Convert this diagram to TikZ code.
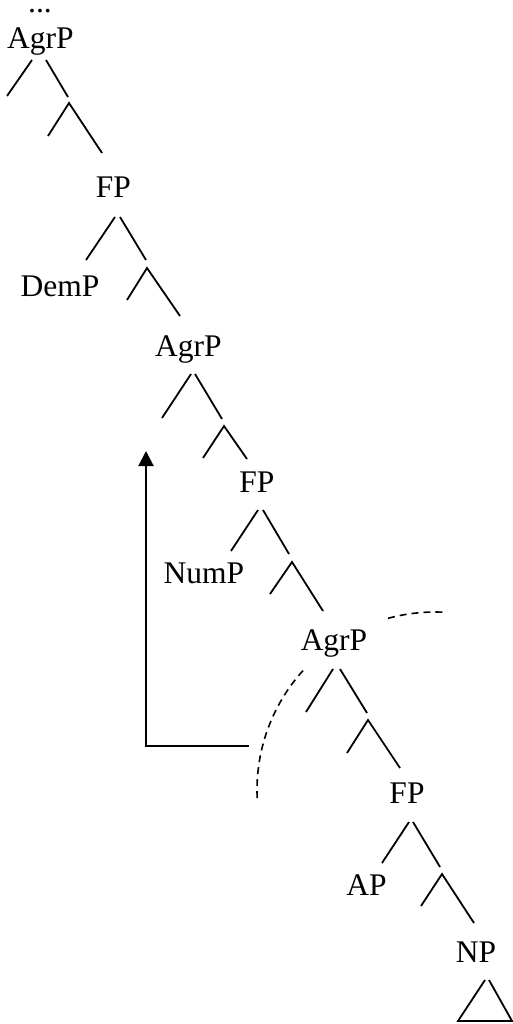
\documentclass[tikz,border=0pt]{standalone}
\usepackage{fontspec}
\setmainfont{Liberation Serif}
\usetikzlibrary{arrows.meta}
\tikzset{
  br/.style={line width=1.8pt},
  lab/.style={anchor=base, inner sep=0pt, font=\fontsize{31.5}{36}\selectfont},
  dsh/.style={line width=1.6pt, dash pattern=on 7pt off 5pt},
  mv/.style={line width=2pt, -{Triangle[length=15pt,width=15pt]}}
}
\begin{document}
\begin{tikzpicture}[x=1pt,y=-1pt]
\useasboundingbox (0,0) rectangle (513,1024);
% labels
\node[lab] (dots) at (40,13) {...};
\node[lab] (AgrPa) at (40.5,49) {AgrP};
\node[lab] (FPa) at (113.5,198) {FP};
\node[lab] (DemP) at (60,296) {DemP};
\node[lab] (AgrPb) at (188.5,356) {AgrP};
\node[lab] (FPb) at (257,492) {FP};
\node[lab] (NumP) at (204,583) {NumP};
\node[lab] (AgrPc) at (334,650) {AgrP};
\node[lab] (FPc) at (407,803) {FP};
\node[lab] (AP) at (366.5,895) {AP};
\node[lab] (NP) at (476,962) {NP};
% branch points
\coordinate (a1) at (32,60);   \coordinate (a2) at (7,96);
\coordinate (a3) at (46,60);   \coordinate (a4) at (68,97);
\coordinate (ia) at (69,103);  \coordinate (ial) at (48,136);  \coordinate (iar) at (102,153);
\coordinate (f1) at (115,217); \coordinate (f2) at (86,260);
\coordinate (f3) at (120,217); \coordinate (f4) at (146,260);
\coordinate (ib) at (147,268); \coordinate (ibl) at (127,300); \coordinate (ibr) at (180,316);
\coordinate (b1) at (191,374); \coordinate (b2) at (162,418);
\coordinate (b3) at (195,374); \coordinate (b4) at (222,419);
\coordinate (ic) at (224,426); \coordinate (icl) at (203,458); \coordinate (icr) at (247,459);
\coordinate (g1) at (258,510); \coordinate (g2) at (231,551);
\coordinate (g3) at (263,510); \coordinate (g4) at (289,554);
\coordinate (id) at (292,562); \coordinate (idl) at (270,594); \coordinate (idr) at (323,611);
\coordinate (c1) at (333,669); \coordinate (c2) at (306,712);
\coordinate (c3) at (340,669); \coordinate (c4) at (367,713);
\coordinate (ie) at (368,720); \coordinate (iel) at (347,753); \coordinate (ier) at (400,768);
\coordinate (h1) at (409,822); \coordinate (h2) at (382,863);
\coordinate (h3) at (413,822); \coordinate (h4) at (440,867);
\coordinate (if) at (442,874); \coordinate (ifl) at (421,906); \coordinate (ifr) at (474,923);
\coordinate (t1) at (485,980); \coordinate (t2) at (458,1021);
\coordinate (t3) at (512,1021); \coordinate (t4) at (489,980);
% branches
\draw[br] (a1) -- (a2); \draw[br] (a3) -- (a4);
\draw[br] (ial) -- (ia) -- (iar);
\draw[br] (f1) -- (f2); \draw[br] (f3) -- (f4);
\draw[br] (ibl) -- (ib) -- (ibr);
\draw[br] (b1) -- (b2); \draw[br] (b3) -- (b4);
\draw[br] (icl) -- (ic) -- (icr);
\draw[br] (g1) -- (g2); \draw[br] (g3) -- (g4);
\draw[br] (idl) -- (id) -- (idr);
\draw[br] (c1) -- (c2); \draw[br] (c3) -- (c4);
\draw[br] (iel) -- (ie) -- (ier);
\draw[br] (h1) -- (h2); \draw[br] (h3) -- (h4);
\draw[br] (ifl) -- (if) -- (ifr);
\draw[br] (t1) -- (t2) -- (t3) -- (t4);
% movement arrow
\coordinate (m0) at (249,746);
\coordinate (m1) at (146,746);
\coordinate (m2) at (146,451);
\draw[mv] (m0) -- (m1) -- (m2);
% dashed boundary
\draw[dsh] plot[domain=182.6:136.4, samples=40] ({435+178*cos(\x)}, {790-178*sin(\x)});
\draw[dsh] plot[domain=105.3:86.8, samples=20] ({435+178*cos(\x)}, {790-178*sin(\x)});
\end{tikzpicture}
\end{document}
